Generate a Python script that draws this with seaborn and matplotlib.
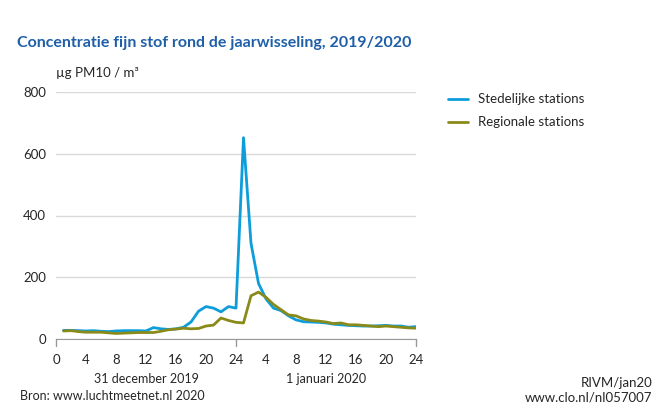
import numpy as np
import pandas as pd
import seaborn as sns
import matplotlib.pyplot as plt

# uren sinds 31 dec 2019 00:00
hours = list(range(1, 49))
stedelijk = [28, 28, 27, 26, 27, 25, 24, 26, 27, 27, 27, 26,
             37, 33, 31, 33, 38, 55, 90, 105, 100, 88, 105, 100,
             652, 310, 180, 130, 100, 92, 75, 62, 56, 55, 54, 52,
             48, 46, 44, 43, 42, 42, 43, 44, 42, 42, 38, 40]
regionaal = [26, 27, 24, 22, 22, 22, 20, 18, 19, 20, 21, 21,
             21, 25, 30, 32, 35, 33, 34, 42, 45, 68, 60, 54,
             52, 140, 152, 135, 112, 95, 78, 75, 65, 60, 58, 55,
             50, 52, 46, 46, 44, 42, 40, 42, 40, 38, 36, 35]
series = ['Stedelijke stations', 'Regionale stations']
colors = ['#0d9ddb', '#8a8a1a']
tick_pos = list(range(0, 49, 4))
tick_labels = ['0', '4', '8', '12', '16', '20', '24', '4', '8', '12', '16', '20', '24']

df = pd.DataFrame({
    'uur': hours * 2,
    'waarde': stedelijk + regionaal,
    'reeks': [series[0]] * len(hours) + [series[1]] * len(hours),
})

sns.set_style('white')
plt.rcParams['font.family'] = ['Lato', 'DejaVu Sans']

fig = plt.figure(figsize=(6.6, 4.07), dpi=100)
ax = fig.add_axes([56 / 660, 1 - 339 / 407, 360 / 660, 247 / 407])

sns.lineplot(data=df, x='uur', y='waarde', hue='reeks', hue_order=series,
             palette=colors, linewidth=2, ax=ax, legend=False)

ax.set_xlim(0, 48)
ax.set_ylim(0, 800)
ax.set_yticks([0, 200, 400, 600, 800])
ax.yaxis.grid(True, color='#d9d9d9', linewidth=1)
ax.set_axisbelow(True)
for s in ['top', 'right', 'left']:
    ax.spines[s].set_visible(False)
ax.spines['bottom'].set_color('#999999')
ax.set_xticks(tick_pos)
ax.set_xticklabels(tick_labels)
ax.set_xticks(range(0, 49, 2), minor=True)
ax.tick_params(axis='x', which='both', length=5, color='#999999', labelsize=9.5, pad=6)
ax.tick_params(axis='y', length=0, labelsize=9.5, pad=7)
ax.set_xlabel('')
ax.set_ylabel('')

# lange streepjes bij de daggrenzen
for d in [0, 24, 48]:
    ax.plot([d, d], [0, -22], color='#999999', linewidth=1, clip_on=False)

ax.text(12, -0.16, '31 december 2019', transform=ax.get_xaxis_transform(),
        ha='center', va='center', fontsize=9)
ax.text(36, -0.16, '1 januari 2020', transform=ax.get_xaxis_transform(),
        ha='center', va='center', fontsize=9)

fig.text(17 / 660, 1 - 43 / 407, 'Concentratie fijn stof rond de jaarwisseling, 2019/2020',
         fontsize=11.5, fontweight='bold', color='#1f5fa8', va='center')
fig.text(56 / 660, 1 - 73 / 407, 'µg PM10 / m³', fontsize=9.5, va='center')

# legenda
for i, (name, c) in enumerate(zip(series, colors)):
    y = 1 - (99 + 23 * i) / 407
    fig.add_artist(plt.Line2D([448 / 660, 468 / 660], [y, y], color=c, linewidth=2))
    fig.text(478 / 660, y, name, fontsize=9.5, va='center')

fig.text(20 / 660, 1 - 396 / 407, 'Bron: www.luchtmeetnet.nl 2020', fontsize=9, va='center')
fig.text(652 / 660, 1 - 383 / 407, 'RIVM/jan20', fontsize=9.5, va='center', ha='right')
fig.text(652 / 660, 1 - 397 / 407, 'www.clo.nl/nl057007', fontsize=9.5, va='center', ha='right')

fig.savefig('out.png', dpi=100)
